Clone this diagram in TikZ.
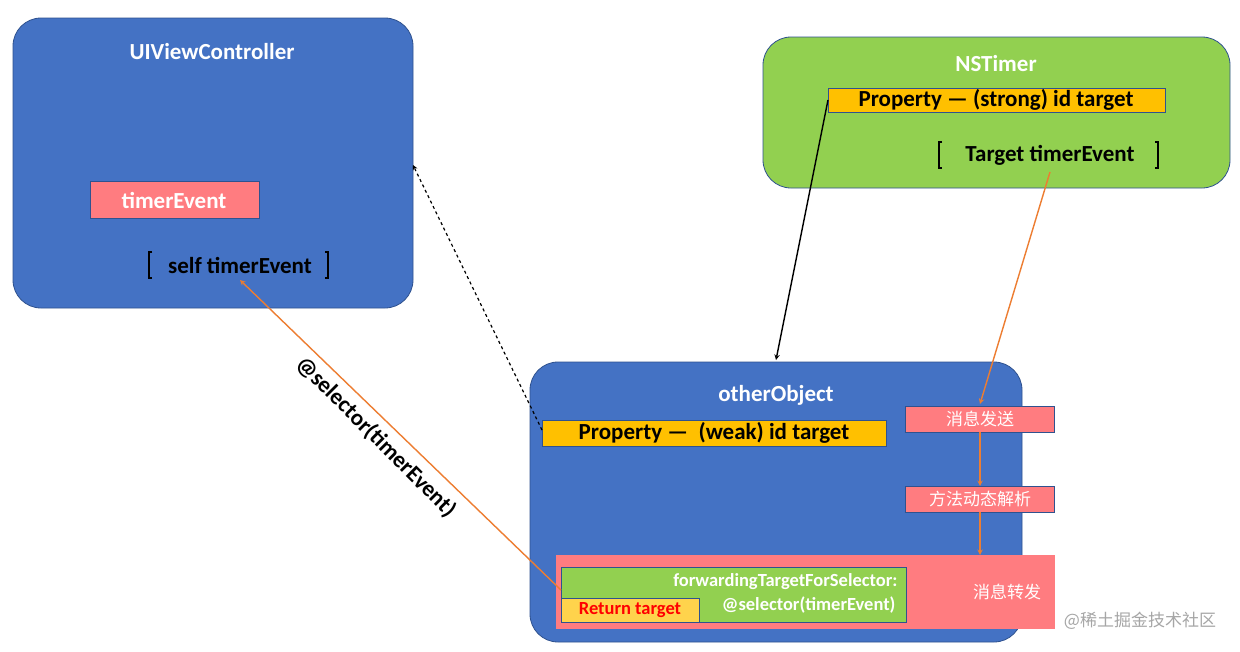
\documentclass[tikz,border=0pt]{standalone}
\usepackage{fontspec}
\setmainfont{Carlito}
\newfontfamily\cjk{Noto Sans CJK SC}
\definecolor{blu}{HTML}{4472C4}
\definecolor{blud}{HTML}{2F528F}
\definecolor{grn}{HTML}{92D050}
\definecolor{sal}{HTML}{FF7C80}
\definecolor{yel}{HTML}{FFC000}
\definecolor{ora}{HTML}{ED7D31}
\begin{document}
\begin{tikzpicture}[x=1pt,y=-1pt,
  big/.style={draw=blud,line width=0.8pt,rounded corners=28pt},
  box/.style={draw=blud,line width=0.6pt},
  wt/.style={text=white,font=\bfseries\fontsize{23}{25}\selectfont},
  bt/.style={text=black,font=\bfseries\fontsize{23}{25}\selectfont},
  ct/.style={text=white,font=\cjk\fontsize{17}{19}\selectfont},
  oarr/.style={draw=ora,line width=1.4pt,-stealth},
  ]
\useasboundingbox[fill=white] (0,0) rectangle (1240,651);
% UIViewController
\draw[big,fill=blu] (13,18) rectangle (413,308);
\node[wt] (uvt) at (212,52) {UIViewController};
\draw[box,fill=sal] (90,181) rectangle (259,218);
\node[wt] (te) at (174,200) {timerEvent};
\node[bt] (self) at (240,265) {self timerEvent};
\draw[line width=1.2pt] (152,252)--(149,252)--(149,278)--(152,278) (325,252)--(328,252)--(328,278)--(325,278);
% NSTimer
\draw[big,fill=grn] (763,37) rectangle (1230,188);
\node[wt] (nst) at (996,64) {NSTimer};
\draw[box,fill=yel] (828,88) rectangle (1165,112);
\node[bt] (ps) at (996,100) {Property — (strong) id target};
\node[bt] (tt) at (1050,155) {Target timerEvent};
\draw[line width=1.2pt] (942,142)--(939,142)--(939,168)--(942,168) (1155,142)--(1158,142)--(1158,168)--(1155,168);
% otherObject
\draw[big,fill=blu] (530,362) rectangle (1022,642);
\node[wt] (oo) at (776,395) {otherObject};
\draw[box,fill=yel] (542,420) rectangle (886,446);
\node[bt] (pw) at (714,433) {Property —\ \ (weak) id target};
\draw[box,fill=sal] (905,406) rectangle (1054,432);
\node[ct] (m1) at (980,419) {消息发送};
\draw[box,fill=sal] (905,486) rectangle (1054,512);
\node[ct] (m2) at (980,499) {方法动态解析};
\draw[draw=sal,fill=sal] (556,555) rectangle (1054,628);
\node[ct] (m3) at (1007,592) {消息转发};
\draw[box,fill=grn] (561,567) rectangle (906,622);
\node[text=white,font=\bfseries\fontsize{18.5}{20}\selectfont,anchor=east] (fw) at (901,582) {forwardingTargetForSelector:};
\node[text=white,font=\bfseries\fontsize{18.5}{20}\selectfont,anchor=east] (fs) at (899,605) {@selector(timerEvent)};
\draw[box,fill=yel!70!white] (561,598) rectangle (699,622);
\node[text=red,font=\bfseries\fontsize{18.5}{20}\selectfont] (rt) at (630,610) {Return target};
\node[text=gray!70,font=\cjk\fontsize{17}{19}\selectfont] (wm) at (1140,621) {@稀土掘金技术社区};
% connectors
\coordinate (a1) at (828,100); \coordinate (a2) at (776,360);
\draw[line width=1.4pt,-stealth] (a1)--(a2);
\coordinate (d1) at (542,430); \coordinate (d2) at (413,165);
\draw[line width=1.2pt,dashed,-stealth] (d1)--(d2);
\coordinate (o1) at (1050,172); \coordinate (o2) at (980,404);
\draw[oarr] (o1)--(o2);
\draw[oarr] (980,432)--(980,486);
\draw[oarr] (980,512)--(980,555);
\coordinate (s1) at (561,590); \coordinate (s2) at (240,280);
\draw[oarr] (s1)--(s2);
\node[bt,rotate=-45] (lbl) at (376,437) {@selector(timerEvent)};
\end{tikzpicture}
\end{document}
